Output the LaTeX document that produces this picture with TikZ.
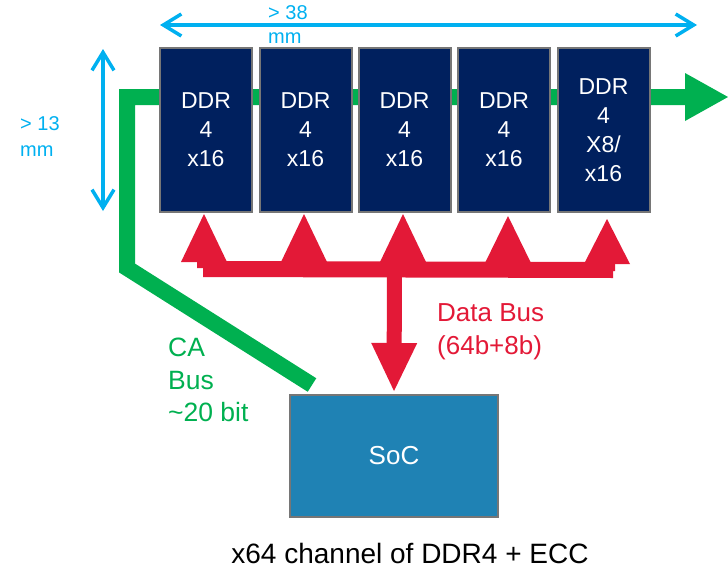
\documentclass[tikz,border=0pt]{standalone}
\usepackage{fontspec}
\setmainfont{Liberation Sans}
\usetikzlibrary{arrows.meta,calc}
\definecolor{ddrnavy}{RGB}{0,32,94}
\definecolor{edgegray}{RGB}{118,118,118}
\definecolor{cagreen}{RGB}{0,176,80}
\definecolor{busred}{RGB}{227,25,55}
\definecolor{dimblue}{RGB}{0,176,240}
\definecolor{socblue}{RGB}{31,130,180}
\tikzset{
  ddrbox/.style={draw=edgegray, line width=2pt, fill=ddrnavy, text=white,
    minimum width=92pt, minimum height=164pt, inner sep=0pt, align=center,
    font=\fontsize{23}{29}\selectfont},
  socbox/.style={draw=edgegray, line width=2pt, fill=socblue, text=white,
    minimum width=208pt, minimum height=122pt, inner sep=0pt,
    font=\fontsize{26}{30}\selectfont},
  cabus/.style={draw=cagreen, line width=16pt, line join=miter,
    -{Triangle[width=48pt,length=43pt,line width=0pt]}},
  databus/.style={draw=busred, line width=15pt,
    -{Triangle[width=46pt,length=48pt,line width=0pt]}},
  dimarrow/.style={draw=dimblue, line width=3.5pt, line cap=round,
    {Straight Barb[length=18pt,width=22pt]}-{Straight Barb[length=18pt,width=22pt]}},
  dimlabel/.style={text=dimblue, inner sep=0pt, anchor=west, align=left},
  buslabel/.style={inner sep=0pt, anchor=west, align=left},
}
\begin{document}
\begin{tikzpicture}[x=1pt,y=-1pt]
\useasboundingbox (0,0) rectangle (728,568);

% nodes
\node[socbox] (soc) at (394,456) {SoC};

% CA bus (behind the DDR boxes)
\coordinate (caend) at (728,97);
\coordinate (cabend) at (127,268);
\coordinate (catop) at (127,97);
\coordinate (castart) at ($(soc.north west)+(23,-9)$);
\draw[cabus] (castart) -- (cabend) -- (catop) -- (caend);

% DDR devices
\node[ddrbox] (d1) at (206,130) {DDR\\4\\x16};
\node[ddrbox] (d2) at (305.5,130) {DDR\\4\\x16};
\node[ddrbox] (d3) at (404.5,130) {DDR\\4\\x16};
\node[ddrbox] (d4) at (504,130) {DDR\\4\\x16};
\node[ddrbox] (d5) at (603.5,130) {DDR\\4\\X8/\\x16};

% re-draw SoC above the green line end
\node[socbox] at (soc) {SoC};

% dimension arrows
\coordinate (dimL) at (160,25);
\coordinate (dimR) at (697,25);
\draw[dimarrow] (dimL) -- (dimR);
\coordinate (dimT) at (103,49);
\coordinate (dimB) at (103,211);
\draw[dimarrow] (dimT) -- (dimB);
\node[dimlabel, font=\fontsize{20}{24}\selectfont] (w38) at (268,25) {> 38\\mm};
\node[dimlabel, font=\fontsize{20}{26}\selectfont] (h13) at (20,137) {> 13\\mm};

% data bus
\fill[busred] (197,261) -- (615,262) -- (615,271) -- (613,271) -- (613,278)
  -- (203,277) -- (203,268) -- (197,268) -- cycle;
\foreach \b/\dx/\ty/\by in {d1/-2/1/49, d2/-1.5/1/49, d3/-1.5/1/49, d4/4/3/50, d5/3.5/6/51}{
  \fill[busred] ($(\b.south)+(\dx,\ty)$) -- ++(23,{\by-\ty}) -- ++(-46,0) -- cycle;
}
\coordinate (busmid) at (394.5,270);
\draw[databus] (busmid) -- ($(soc.north)+(0,-3)$);

% labels
\node[buslabel, text=busred, font=\fontsize{26}{33}\selectfont] (dbl) at (437,331.5) {Data Bus\\(64b+8b)};
\node[buslabel, text=cagreen, font=\fontsize{26.5}{32.5}\selectfont] (cal) at (168,380) {CA\\Bus\\\textasciitilde20 bit};
\node[inner sep=0pt, font=\fontsize{28}{32}\selectfont] (cap) at (410,553) {x64 channel of DDR4 + ECC};
\end{tikzpicture}
\end{document}
